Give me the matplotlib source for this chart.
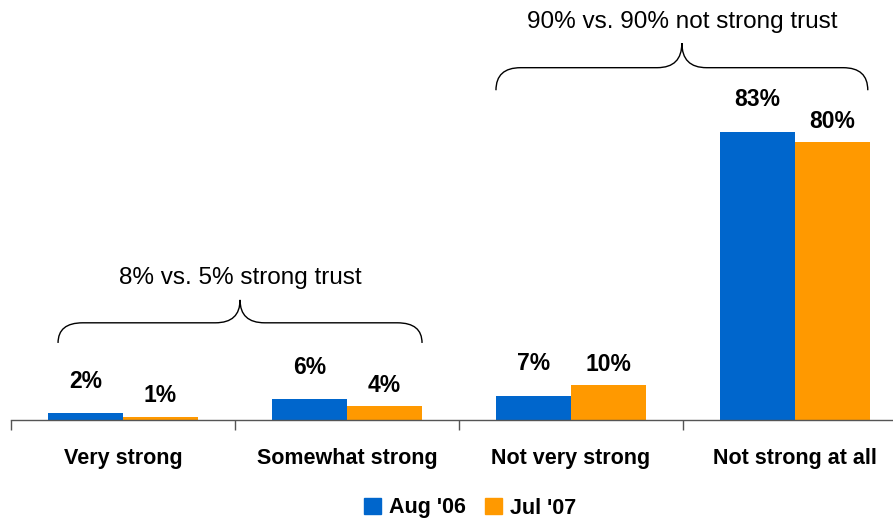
import matplotlib
matplotlib.use("Agg")
import matplotlib.pyplot as plt
from matplotlib.path import Path
from matplotlib.patches import PathPatch, Patch
import numpy as np

categories = ["Very strong", "Somewhat strong", "Not very strong", "Not strong at all"]
aug06 = [2, 6, 7, 83]
jul07 = [1, 4, 10, 80]
series_names = ["Aug '06", "Jul '07"]
brace_texts = ["8% vs. 5% strong trust", "90% vs. 90% not strong trust"]

plt.rcParams['font.family'] = ['Liberation Sans', 'DejaVu Sans']

BLUE = "#0066CC"
ORANGE = "#FF9900"

fig = plt.figure(figsize=(8.93, 5.19), dpi=100)
W, H = 893, 519
ax = fig.add_axes([11 / W, (H - 420) / H, 896 / W, 420 / H])
ax.set_xlim(-0.5, 3.5)
ax.set_ylim(0, 121)

x = np.arange(len(categories))
bw = 1 / 3
ax.bar(x - bw / 2, aug06, width=bw, color=BLUE, zorder=2)
ax.bar(x + bw / 2, jul07, width=bw, color=ORANGE, zorder=2)

for xi, v in zip(x, aug06):
    ax.annotate(f"{v}%", (xi - bw / 2, v), xytext=(0, 23), textcoords="offset points",
                ha="center", va="center", fontsize=16.5, fontweight="bold")
for xi, v in zip(x, jul07):
    ax.annotate(f"{v}%", (xi + bw / 2, v), xytext=(0, 15), textcoords="offset points",
                ha="center", va="center", fontsize=16.5, fontweight="bold")

for s in ["top", "right", "left"]:
    ax.spines[s].set_visible(False)
ax.spines["bottom"].set_color("#555555")
ax.spines["bottom"].set_linewidth(1.0)
ax.set_yticks([])
ax.set_xticks(x)
ax.set_xticklabels(categories, fontsize=15.5, fontweight="bold")
ax.tick_params(axis="x", which="major", length=0, pad=20)
ax.set_xticks(np.arange(-0.5, 4.0, 1.0), minor=True)
ax.tick_params(axis="x", which="minor", length=7, width=1.0, color="#555555", direction="out")


def brace(ax, x0, x1, y_end, y_h, y_tip, dx):
    xc = (x0 + x1) / 2
    verts = [
        (x0, y_end), (x0, y_h), (x0 + dx, y_h),
        (xc - dx, y_h),
        (xc, y_h), (xc, y_tip),
        (xc, y_h), (xc + dx, y_h),
        (x1 - dx, y_h),
        (x1, y_h), (x1, y_end),
    ]
    codes = [Path.MOVETO, Path.CURVE3, Path.CURVE3,
             Path.LINETO,
             Path.CURVE3, Path.CURVE3,
             Path.CURVE3, Path.CURVE3,
             Path.LINETO,
             Path.CURVE3, Path.CURVE3]
    ax.add_patch(PathPatch(Path(verts, codes), fill=False, lw=1.0, color="black",
                           clip_on=False))


brace(ax, -0.29, 1.335, 22.2, 28.0, 34.6, 0.11)
ax.text((-0.29 + 1.335) / 2, 41.0, brace_texts[0], ha="center", va="center", fontsize=17.5)
brace(ax, 1.665, 3.325, 95.0, 101.5, 108.6, 0.11)
ax.text((1.665 + 3.325) / 2, 114.7, brace_texts[1], ha="center", va="center", fontsize=17.5)

handles = [Patch(color=BLUE, label=series_names[0]), Patch(color=ORANGE, label=series_names[1])]
fig.legend(handles=handles, loc="center", bbox_to_anchor=(470 / W, 1 - 508 / H),
           ncol=2, frameon=False, prop={"weight": "bold", "size": 15.5},
           handlelength=0.8, handleheight=0.8, handletextpad=0.35, columnspacing=0.9)

fig.savefig("out.png", dpi=100)
